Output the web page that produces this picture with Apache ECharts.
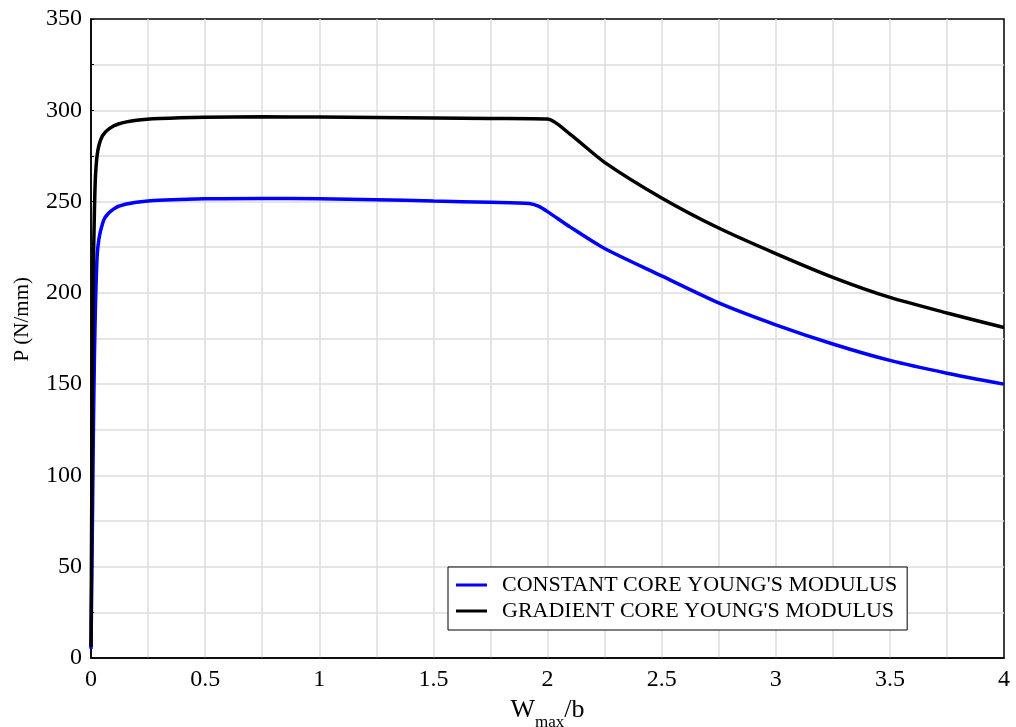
<!DOCTYPE html>
<html>
<head>
<meta charset="utf-8">
<script src="https://cdn.jsdelivr.net/npm/echarts@6/dist/echarts.min.js"></script>
<style>
    html, body { margin: 0; padding: 0; background: #fff; }
    #chart { width: 1016px; height: 727px; }
</style>
</head>
<body>
<div id="chart"></div>
<script>
// W_max/b values and P (N/mm)
var constantX = [0, 0.005, 0.01, 0.015, 0.02, 0.025, 0.03, 0.04, 0.06, 0.1, 0.15, 0.25, 0.5, 0.75, 1.0, 1.25, 1.5, 1.75, 1.92, 1.96, 2.0, 2.1, 2.25, 2.5, 2.75, 3.0, 3.25, 3.5, 3.75, 4.0];
var constantY = [5, 60, 120, 165, 195, 215, 225, 233, 241, 246, 248.5, 250.3, 251.5, 251.7, 251.5, 251, 250.3, 249.6, 249, 247.5, 244.5, 236, 224.3, 209.3, 194.5, 182.5, 172, 163, 156, 150];

var gradientX = [0, 0.003, 0.006, 0.01, 0.015, 0.02, 0.03, 0.05, 0.08, 0.12, 0.2, 0.3, 0.5, 0.75, 1.0, 1.25, 1.5, 1.75, 2.0, 2.1, 2.25, 2.5, 2.75, 3.0, 3.25, 3.5, 3.75, 4.0];
var gradientY = [6, 80, 150, 210, 245, 265, 278, 286, 290, 292.5, 294.5, 295.5, 296.2, 296.4, 296.3, 296.1, 295.8, 295.5, 295.2, 286.8, 271.5, 252, 235.5, 221.5, 208.5, 197.5, 189, 181];

var seriesNames = ["CONSTANT CORE YOUNG'S MODULUS", "GRADIENT CORE YOUNG'S MODULUS"];

function pairs(xs, ys) {
    var out = [];
    for (var i = 0; i < xs.length; i++) {
        out.push([xs[i], ys[i]]);
    }
    return out;
}

var font = 'Liberation Serif';

var option = {
    animation: false,
    backgroundColor: '#fff',
    textStyle: { fontFamily: font, color: '#000' },
    grid: {
        left: 91, right: 12, top: 19, bottom: 69,
        outerBoundsMode: 'none',
        containLabel: false,
        show: true, borderColor: '#000', borderWidth: 1.5
    },
    legend: {
        orient: 'vertical',
        left: 448, top: 567,
        backgroundColor: '#fff',
        borderColor: '#000', borderWidth: 1,
        padding: [5, 10, 6, 8],
        itemGap: 0,
        itemWidth: 31, itemHeight: 3,
        icon: 'rect',
        textStyle: { fontFamily: font, fontSize: 22, color: '#000', lineHeight: 26, padding: [0, 0, 0, 10] },
        data: seriesNames
    },
    xAxis: {
        type: 'value',
        min: 0, max: 4, interval: 0.25,
        name: '{a|W}{b|max}{a|/b}',
        nameLocation: 'middle',
        nameGap: 33,
        nameTextStyle: {
            rich: {
                a: { fontFamily: font, fontSize: 26, color: '#000', verticalAlign: 'bottom', padding: [0, 0, 8, 0] },
                b: { fontFamily: font, fontSize: 17, color: '#000', verticalAlign: 'bottom' }
            }
        },
        axisLine: { lineStyle: { color: '#000', width: 1.5 } },
        axisTick: { show: false },
        axisLabel: {
            fontFamily: font, fontSize: 24, color: '#000', margin: 10,
            formatter: function (v) { return (v * 2) % 1 === 0 ? String(v) : ''; }
        },
        splitLine: { showMinLine: false, showMaxLine: false, lineStyle: { color: '#dcdcdc', width: 1.5 } }
    },
    yAxis: {
        type: 'value',
        min: 0, max: 350, interval: 25,
        axisLine: { lineStyle: { color: '#000', width: 1.5 } },
        axisTick: { show: true, inside: true, length: 3, lineStyle: { color: '#000' } },
        axisLabel: {
            fontFamily: font, fontSize: 24, color: '#000', margin: 9,
            formatter: function (v) { return v % 50 === 0 ? String(v) : ''; }
        },
        splitLine: { showMinLine: false, showMaxLine: false, lineStyle: { color: '#dcdcdc', width: 1.5 } }
    },
    graphic: [{
        type: 'text',
        left: 12,
        top: 277,
        rotation: Math.PI / 2,
        style: { text: 'P (N/mm)', font: '21px ' + font, fill: '#000' }
    }],
    series: [{
        name: seriesNames[0],
        type: 'line',
        data: pairs(constantX, constantY),
        showSymbol: false,
        smooth: 0.25,
        lineStyle: { color: '#0000ff', width: 3.5 },
        itemStyle: { color: '#0000ff' }
    }, {
        name: seriesNames[1],
        type: 'line',
        data: pairs(gradientX, gradientY),
        showSymbol: false,
        smooth: 0.25,
        lineStyle: { color: '#000', width: 3.5 },
        itemStyle: { color: '#000' }
    }]
};

var myChart = echarts.init(document.getElementById('chart'));
myChart.setOption(option);
</script>
</body>
</html>
